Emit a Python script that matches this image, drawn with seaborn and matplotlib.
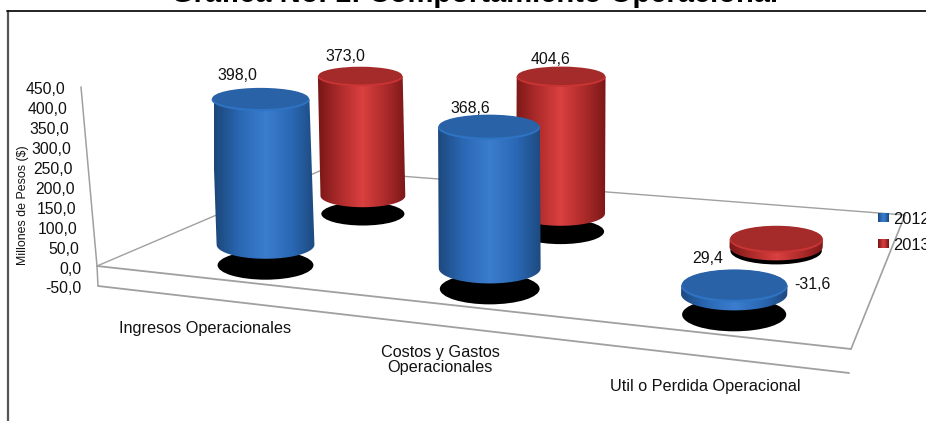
"""Grafica 1: cilindros 3D (2012 / 2013) en perspectiva, con seaborn y matplotlib."""

import numpy as np
import pandas as pd
import matplotlib
matplotlib.use("Agg")
import matplotlib.pyplot as plt
from matplotlib.colors import LinearSegmentedColormap
from matplotlib.patches import Ellipse, Polygon
import seaborn as sns

categorias = ["Ingresos Operacionales", "Costos y Gastos\nOperacionales",
              "Util o Perdida Operacional"]
anios = ["2012", "2013"]
valores_2012 = [398.0, 368.6, 29.4]
valores_2013 = [373.0, 404.6, -31.6]
eje_valores = [450, 400, 350, 300, 250, 200, 150, 100, 50, 0, -50]

TITULO = "Gráfica No. 1: Comportamiento Operacional"
EJE_Y = "Millones de Pesos ($)"

# esquinas del piso en pixeles de la imagen
FRENTE_IZQ = np.array([97.0, 266.0])
FRENTE_DER = np.array([851.0, 349.0])
FONDO_IZQ = np.array([322.0, 170.0])
FONDO_DER = np.array([905.0, 215.0])
PROFUNDIDAD = {"2012": 0.18, "2013": 0.68}
POS_CATEGORIA = [0.177, 0.487, 0.825]
ESCALA_CATEGORIA = [0.366, 0.384, 0.30]  # px por unidad segun la perspectiva

# desplazamiento de cada etiqueta respecto a la tapa (anio, categoria)
AJUSTE_ETIQUETA = {
    ("2012", 0): (-23, -24), ("2012", 1): (-19, -18), ("2012", 2): (-27, -27),
    ("2013", 0): (-15, -20), ("2013", 1): (-11, -17), ("2013", 2): (36, 46),
}

AZUL = LinearSegmentedColormap.from_list(
    "azul", ["#1c4679", "#2a68b4", "#3b7dce", "#2a68b4", "#1c4679"])
ROJO = LinearSegmentedColormap.from_list(
    "rojo", ["#771616", "#ae2b2b", "#da4040", "#ae2b2b", "#771616"])
TAPA = {"2012": ("#2a62a8", "#2f74c4"), "2013": ("#a52a2a", "#c93434")}


def piso(u, v):
    izq = FRENTE_IZQ + (FONDO_IZQ - FRENTE_IZQ) * v
    der = FRENTE_DER + (FONDO_DER - FRENTE_DER) * v
    return izq + (der - izq) * u


def achatado(y):
    # las tapas altas se ven mas planas que las cercanas al piso
    return 0.19 + 0.0004 * y


def cilindro(ax, u, v, valor, anio, etiqueta, ajuste):
    x, y = piso(u, v)
    y = y + 3
    ancho = 95.5 + 13 * u - 26 * (v - 0.18)
    escala = np.interp(u, POS_CATEGORIA, ESCALA_CATEGORIA) - 0.09 * (v - 0.18)

    # sombra en el piso
    ax.add_patch(Ellipse((x, y), ancho * 0.98, ancho * achatado(y), fc="black", ec="none", zorder=3))

    base = y - (20.5 - 5 * (v - 0.18))
    alto = abs(valor) * escala
    y_tapa = base - alto if valor > 0 else base + 6
    y_base = base if valor > 0 else base + 6 + alto
    x_tapa = x + (x - 530) * 1.3e-4 * alto
    alto_tapa = ancho * achatado(y_tapa)
    alto_base = ancho * achatado(y_base)

    t = np.linspace(0, np.pi, 40)
    inferior = np.column_stack([x + ancho / 2 * np.cos(t), y_base + alto_base / 2 * np.sin(t)])
    superior = np.array([[x_tapa - ancho / 2, y_tapa], [x_tapa + ancho / 2, y_tapa]])
    cuerpo = Polygon(np.vstack([inferior, superior]), closed=True, fc="none", ec="none", zorder=4)
    ax.add_patch(cuerpo)
    im = ax.imshow(np.linspace(0, 1, 200).reshape(1, -1),
                   extent=(x - ancho / 2 - 3, x + ancho / 2 + 3, y_base + 30, y_tapa),
                   cmap=AZUL if anio == "2012" else ROJO, aspect="auto", zorder=4)
    im.set_clip_path(cuerpo)

    oscuro, claro = TAPA[anio]
    ax.add_patch(Ellipse((x_tapa, y_tapa + 0.8), ancho, alto_tapa, fc=claro, ec="none", zorder=5))
    ax.add_patch(Ellipse((x_tapa, y_tapa - 0.6), ancho * 0.985, alto_tapa * 0.94, fc=oscuro, ec="none", zorder=5))

    ax.text(x_tapa + ajuste[0], y_tapa + ajuste[1], etiqueta, ha="center", va="center",
            fontsize=11.4, color="#111111", zorder=6)


sns.set_theme(style="white", rc={"axes.grid": False})
plt.rcParams["font.family"] = ["Liberation Sans", "DejaVu Sans"]

df = pd.DataFrame({
    "categoria": categorias * 2,
    "anio": [anios[0]] * 3 + [anios[1]] * 3,
    "valor": valores_2012 + valores_2013,
})

fig = plt.figure(figsize=(9.26, 4.21), dpi=100)
ax = fig.add_axes([0, 0, 1, 1])

# seaborn agrupa las barras; sus alturas y posiciones alimentan la proyeccion 3D
sns.barplot(data=df, x="categoria", y="valor", hue="anio", ax=ax, legend=False, errorbar=None)
barras = []
for anio, contenedor in zip(anios, ax.containers):
    for barra in contenedor:
        centro = barra.get_x() + barra.get_width() / 2
        barras.append((anio, round(centro), barra.get_height()))
ax.clear()
ax.axis("off")

# marco y titulo
ax.plot([8, 8], [421, 11], color="#555555", lw=1.6, zorder=1)
ax.plot([7, 926], [11, 11], color="#111111", lw=1.3, zorder=1)
ax.text(474.5, 2.5, TITULO, ha="center", va="baseline", fontsize=21, fontweight="bold", color="black")

# piso y paredes
gris = "#a0a0a0"
ax.plot(*zip(FRENTE_IZQ, FRENTE_DER), color=gris, lw=1.3, zorder=2)
ax.plot(*zip(FRENTE_DER, FONDO_DER), color=gris, lw=1.2, zorder=2)
ax.plot(*zip(FONDO_DER, FONDO_IZQ), color=gris, lw=1.0, zorder=2)
ax.plot(*zip(FONDO_IZQ, FRENTE_IZQ), color=gris, lw=1.0, zorder=2)
ax.plot([98, 849], [286, 373], color=gris, lw=1.3, zorder=2)

# eje de valores: recorre la arista izquierda
px_por_unidad = 0.398
pendiente_x = 16 / 179
ax.plot([97 - pendiente_x * max(eje_valores) * px_por_unidad, 97, 98],
        [266 - max(eje_valores) * px_por_unidad, 266, 266 - min(eje_valores) * px_por_unidad],
        color=gris, lw=1.1, zorder=2)
for valor in eje_valores:
    alto = valor * px_por_unidad
    x_etiqueta = 81.5 - pendiente_x * max(alto, 0)
    ax.text(x_etiqueta, 269 - alto, f"{valor:.1f}".replace(".", ","), ha="right", va="center",
            fontsize=11.3, color="#111111")
ax.text(23, 205, EJE_Y, rotation=90, ha="center", va="center", fontsize=8.9, color="#111111")

# cilindros: primero la fila del fondo
for anio in reversed(anios):
    for a, i, valor in barras:
        if a == anio:
            texto = f"{valor:.1f}".replace(".", ",")
            cilindro(ax, POS_CATEGORIA[i], PROFUNDIDAD[anio], valor, anio, texto, AJUSTE_ETIQUETA[(anio, i)])

# categorias
pos_categorias = [(205, 329), (440, 360), (705, 387)]
for texto, (x, y) in zip(categorias, pos_categorias):
    ax.text(x, y, texto, ha="center", va="center", fontsize=11.7, color="#111111", linespacing=0.95)

# leyenda
colores = {"2012": AZUL, "2013": ROJO}
for anio, y in zip(anios, [218, 243.5]):
    ax.imshow(np.linspace(0, 1, 30).reshape(1, -1), extent=(878, 889, y + 4.5, y - 4.5),
              cmap=colores[anio], aspect="auto", zorder=6)
    ax.text(893, y + 1.5, anio, ha="left", va="center", fontsize=11.8, color="#111111", zorder=6)

ax.set_xlim(0, 926)
ax.set_ylim(421, 0)
fig.savefig("out.png", dpi=100, facecolor="white")
